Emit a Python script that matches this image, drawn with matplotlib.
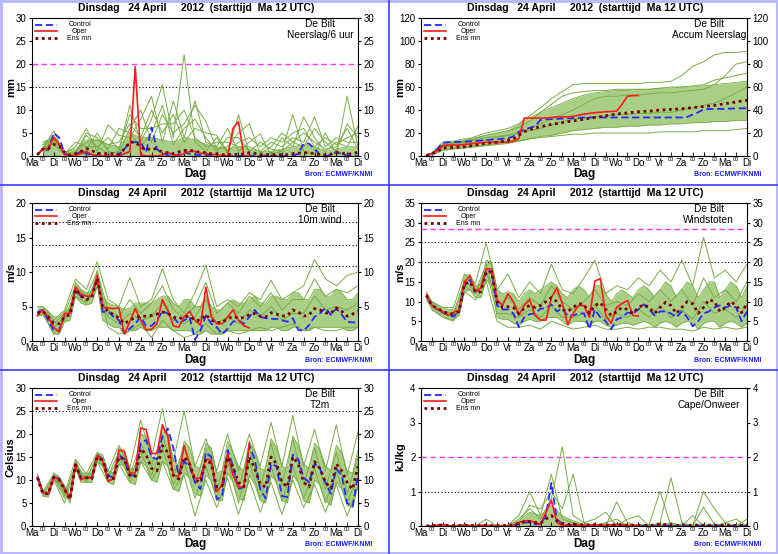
import matplotlib.pyplot as plt
import numpy as np

plt.rcParams['font.family'] = ['Liberation Sans', 'DejaVu Sans']

# time axis in days after Ma 12 UTC (6-hourly and 12-hourly steps)
t6 = np.arange(1, 61) * 0.25
t12 = np.arange(1, 31) * 0.5
day_names = ['Ma', 'Di', 'Wo', 'Do', 'Vr', 'Za', 'Zo', 'Ma', 'Di', 'Wo', 'Do', 'Vr', 'Za', 'Zo', 'Ma', 'Di']
title = 'Dinsdag   24 April     2012  (starttijd  Ma 12 UTC)'

# ---------------- Neerslag/6 uur ----------------
rain_ctrl = [0.3, 1.5, 1.3, 5.0,  4.0, 0.5, 0.1, 0.3,  1.0, 0.5, 0.3, 0.1,  0.1, 0.1, 0.1, 0.2,
             1.5, 3.0, 3.0, 3.0,  0.8, 6.2, 1.5, 0.5,  0.2, 0.1, 0.3, 0.8,  0.5, 0.3, 0.2, 0.3,
             0.2, 0.1, 0.0, 0.0,  0.0, 0.0, 0.0, 0.0,  0.0, 0.0, 0.0, 0.0,  0.0, 0.0, 0.0, 0.0,
             0.5, 2.7, 2.7, 1.5,  0.3, 0.0, 0.2, 0.8,  0.5, 0.1, 0.0, 0.0]
rain_oper = [0.3, 1.5, 1.7, 4.0,  2.5, 0.3, 0.0, 0.2,  0.5, 1.0, 0.3, 0.0,  0.0, 0.0, 0.0, 0.0,
             0.5, 1.0, 19.4, 0.3,  0.0, 0.0, 0.0, 0.2,  0.8, 0.2, 0.1, 0.5,  1.0, 1.0, 0.6, 0.5,
             0.4, 0.2, 0.1, 0.0,  6.0, 7.5, 0.0, 0.0]
rain_mean = [0.3, 1.5, 1.6, 2.5,  2.2, 0.8, 0.2, 0.5,  1.0, 1.6, 1.2, 0.6,  0.5, 0.5, 0.5, 0.4,
             1.5, 3.0, 3.0, 2.0,  1.3, 1.7, 1.5, 0.8,  0.7, 0.5, 0.9, 1.2,  1.3, 1.0, 0.8, 0.7,
             0.5, 0.5, 0.3, 0.3,  0.3, 0.4, 0.4, 0.7,  0.6, 0.3, 0.3, 0.3,  0.3, 0.3, 0.3, 0.5,
             0.6, 0.7, 0.7, 0.5,  0.3, 0.2, 0.4, 0.8,  0.6, 0.4, 0.5, 0.8]
rain_lo = [0.0] * 30
rain_hi = [2.5, 4.5, 0.8, 1.5, 3.5, 3.5, 2.5, 2.0, 5.0, 4.0,
           4.0, 3.5, 3.0, 4.0, 3.5, 2.5, 2.0, 1.5, 2.0, 1.5,
           1.0, 1.0, 1.5, 2.0, 2.5, 2.0, 1.0, 1.5, 2.0, 2.0]
rain_members = [
    [1.5, 5.5, 0.2, 0.5, 4.5, 2.0, 0.5, 1.0, 11.0, 3.0,
     8.0, 15.5, 4.0, 22.0, 3.0, 1.0, 4.0, 0.5, 9.0, 0.5,
     0.2, 0.5, 1.0, 9.0, 1.0, 0.5, 5.0, 0.5, 13.0, 2.0],
    [3.0, 4.0, 0.5, 2.0, 6.0, 1.0, 6.8, 4.5, 4.0, 8.0,
     13.0, 3.0, 12.0, 4.0, 12.0, 3.0, 2.0, 6.0, 1.0, 3.0,
     4.8, 0.2, 4.0, 2.0, 8.5, 4.0, 1.0, 3.0, 2.0, 6.5],
    [0.5, 3.0, 1.0, 0.0, 1.5, 5.0, 1.0, 0.5, 6.0, 10.0,
     3.0, 9.0, 5.0, 7.0, 11.0, 7.5, 1.5, 2.0, 5.0, 7.0,
     0.5, 2.0, 5.0, 3.0, 2.0, 6.0, 3.0, 1.0, 7.0, 4.0],
    [2.0, 2.5, 0.3, 1.0, 3.0, 3.5, 2.5, 3.0, 7.0, 4.0,
     10.0, 5.0, 9.0, 3.0, 6.0, 5.0, 4.5, 1.0, 3.0, 4.0,
     2.0, 4.0, 3.0, 5.0, 6.0, 2.0, 4.0, 2.5, 4.0, 5.0],
    [1.0, 4.0, 0.5, 3.0, 2.0, 2.0, 4.0, 1.5, 9.0, 6.0,
     6.0, 7.0, 7.0, 10.0, 4.0, 2.0, 3.0, 3.0, 2.0, 2.0,
     1.0, 3.0, 2.0, 4.0, 3.0, 8.5, 2.0, 4.0, 3.0, 3.0],
    [2.5, 3.5, 0.2, 0.5, 5.0, 4.0, 1.5, 6.0, 5.0, 2.0,
     5.0, 11.0, 2.5, 6.0, 8.0, 4.0, 1.0, 4.0, 4.0, 1.0,
     3.0, 1.5, 1.0, 3.0, 5.0, 3.0, 1.5, 2.0, 6.0, 1.5],
]

# ---------------- Accum Neerslag ----------------
acc_ctrl = [0.5, 2, 6, 11.5,  12, 12, 12.3, 12.5,  12.7, 13, 13.5, 14,  14.2, 14.5, 15, 15.5,
            17, 21, 23, 24.5,  26, 31.5, 32, 32,  32.3, 32.5, 32.8, 33,  33.2, 33.5, 33.5, 33.5,
            33.5, 33.5, 33.5, 33.5,  33.5, 33.5, 33.5, 33.5,  33.5, 33.5, 33.5, 33.5,  33.5, 33.5, 33.5, 33.5,
            34, 36, 38, 40.5,  40.8, 41, 41, 41,  41.2, 41.4, 41.5, 41.5]
acc_oper = [0.5, 2, 5, 9,  9.5, 9.5, 9.5, 10,  10.5, 11, 11.5, 12,  12, 12, 12, 12,
            13, 15, 33, 33,  33, 33, 33, 33.5,  34, 34, 34, 34.5,  35.5, 36.5, 37, 37.7,
            38, 38.5, 38.7, 39,  45, 52, 52.5, 52.5]
acc_mean = [0.5, 2, 4, 7,  7.2, 7.5, 7.7, 8,  8.7, 9.5, 10.2, 11,  11.5, 12, 12.7, 13.5,
            15, 18, 21, 23,  24.3, 25.5, 26.5, 27.5,  28.2, 29, 29.8, 30.5,  31.2, 32, 32.8, 33.5,
            34.3, 35, 35.8, 36.5,  37, 37.5, 38, 38.5,  38.8, 39, 39.5, 40,  40.2, 40.5, 40.8, 41,
            41.5, 42, 42.5, 43,  43.5, 44, 44.8, 45.5,  46.2, 47, 47.8, 48.5]
acc_lo = [1, 5, 6, 7, 8, 9, 10, 11, 13, 15,
          17, 18, 20, 22, 23, 24, 25, 25, 26, 26,
          27, 27, 28, 28, 29, 29, 30, 30, 31, 31]
acc_hi = [3, 12, 13, 15, 16, 18, 20, 22, 27, 33,
          38, 42, 46, 50, 53, 55, 56, 57, 57, 58,
          58, 59, 59, 60, 60, 61, 62, 63, 64, 65]
acc_members = [
    [2, 10, 12, 13, 17, 20, 22, 24, 28, 35,
     42, 50, 56, 62, 63, 63, 63, 63, 63, 63,
     64, 64, 65, 70, 78, 82, 88, 90, 90, 91],
    [1, 5, 7, 8, 9, 10, 11, 12, 13, 15,
     16, 17, 18, 19, 19, 20, 20, 20, 20, 20,
     20, 21, 21, 21, 21, 22, 22, 22, 23, 24],
    [2, 9, 11, 13, 15, 18, 20, 22, 25, 30,
     38, 45, 52, 55, 56, 57, 57, 58, 58, 58,
     58, 59, 60, 60, 61, 62, 66, 68, 70, 72],
    [1, 7, 9, 11, 12, 14, 16, 18, 20, 22,
     24, 27, 30, 32, 33, 34, 35, 36, 36, 37,
     37, 38, 38, 40, 42, 44, 46, 50, 55, 60],
    [2, 8, 10, 12, 14, 16, 17, 18, 20, 24,
     28, 32, 36, 40, 45, 50, 52, 52, 53, 53,
     54, 55, 55, 56, 57, 58, 62, 70, 80, 82],
]

# ---------------- 10m wind ----------------
wind_ctrl = [4.2, 4.5, 3.0, 1.5,  1.5, 3.8, 4.0, 7.5,  6.5, 6.3, 6.5, 9.2,  4.2, 4.3, 3.5, 3.0,
             1.1, 1.8, 2.5, 3.5,  2.2, 2.2, 3.0, 4.3,  4.0, 3.5, 2.5, 3.0,  3.5, 0.2, 1.5, 3.7,
             2.5, 2.0, 1.0, 1.8,  2.8, 3.0, 2.5, 3.5,  4.5, 3.5, 3.3, 3.2,  3.2, 3.0, 2.8, 3.3,
             1.6, 1.5, 2.3, 3.5,  4.0, 4.8, 3.8, 4.7,  3.8, 2.8, 2.7, 2.7]
wind_oper = [3.7, 4.5, 3.5, 2.0,  1.3, 4.0, 4.0, 7.8,  6.8, 6.5, 6.5, 9.5,  4.9, 4.8, 4.7, 4.8,
             1.0, 2.8, 4.7, 3.0,  1.6, 1.7, 2.5, 6.0,  4.5, 2.2, 2.0, 3.5,  4.3, 3.0, 2.3, 7.8,
             3.5, 2.5, 2.5, 3.5,  4.5, 3.0, 2.2, 1.9]
wind_mean = [4.0, 4.3, 3.5, 2.6,  2.5, 3.5, 3.8, 7.5,  6.5, 6.0, 6.3, 9.0,  5.0, 4.3, 3.8, 3.3,
             2.5, 3.0, 3.4, 3.6,  3.6, 3.7, 3.9, 4.2,  4.0, 3.5, 3.2, 3.5,  3.6, 3.0, 3.0, 3.8,
             3.0, 2.7, 2.7, 3.2,  3.6, 3.3, 3.4, 3.8,  4.0, 3.6, 3.5, 4.1,  3.9, 3.6, 3.7, 4.5,
             4.2, 3.6, 3.8, 4.7,  4.5, 4.1, 4.0, 4.8,  4.3, 3.6, 3.9, 4.3]
wind_lo = [3.6, 3.8, 2.5, 1.0,  1.0, 2.8, 3.0, 6.5,  5.5, 5.2, 5.5, 8.0,  3.0, 2.5, 2.0, 2.0,
           1.0, 1.5, 1.5, 2.0,  1.5, 1.5, 2.0, 2.0,  2.0, 1.5, 1.5, 1.5,  1.5, 1.0, 1.0, 1.5,
           1.0, 1.0, 1.0, 1.5,  1.5, 1.5, 1.5, 1.5,  1.5, 1.5, 1.5, 2.0,  2.0, 1.5, 1.5, 2.0,
           2.0, 1.5, 1.5, 2.0,  2.0, 2.0, 2.0, 2.0,  2.0, 1.5, 1.5, 2.0]
wind_hi = [5.0, 5.0, 4.3, 3.5,  3.5, 4.3, 4.7, 8.5,  7.5, 7.0, 7.2, 10.3,  6.5, 5.5, 5.2, 5.0,
           4.5, 4.8, 5.5, 5.5,  5.5, 5.5, 6.0, 6.5,  6.5, 5.5, 5.0, 6.0,  6.0, 5.0, 5.0, 6.5,
           5.0, 4.5, 4.5, 5.5,  6.0, 5.5, 5.5, 6.0,  6.5, 5.5, 5.5, 6.5,  6.5, 6.0, 6.0, 7.0,
           7.0, 6.0, 6.0, 7.5,  7.5, 6.5, 6.5, 7.5,  7.0, 6.0, 6.0, 7.0]
wind_members = [
    [5.0, 3.0, 4.5, 9.0, 7.5, 11.5, 6.0, 5.0, 9.2, 5.0,
     6.0, 10.5, 6.0, 4.0, 7.0, 11.0, 5.0, 6.0, 5.0, 7.0,
     6.0, 8.8, 6.0, 7.0, 8.0, 11.8, 9.0, 8.0, 9.5, 10.0],
    [4.0, 1.0, 3.0, 6.5, 5.5, 8.5, 2.0, 1.0, 1.5, 2.5,
     0.5, 3.0, 1.5, 0.5, 1.0, 2.5, 1.0, 1.5, 1.0, 1.5,
     2.0, 1.5, 2.0, 2.5, 1.5, 2.0, 1.5, 1.5, 2.0, 2.0],
    [4.5, 2.5, 4.0, 8.0, 6.5, 10.0, 4.5, 3.5, 6.0, 4.0,
     5.5, 8.0, 4.5, 3.5, 5.0, 8.5, 4.0, 5.5, 4.0, 6.5,
     5.0, 7.0, 4.5, 6.0, 6.0, 9.0, 6.5, 7.5, 7.0, 8.0],
    [4.2, 2.0, 3.5, 7.0, 6.0, 9.0, 3.5, 2.5, 4.0, 3.0,
     3.5, 5.5, 3.0, 2.5, 3.5, 6.0, 2.5, 3.5, 2.5, 4.5,
     3.5, 5.0, 3.0, 4.0, 4.0, 6.5, 4.5, 5.0, 4.5, 5.5],
]

# ---------------- Windstoten ----------------
gust_ctrl = [11.5, 9.0, 8.0, 7.3,  6.5, 6.2, 7.5, 14.0,  15.5, 12.5, 13.0, 18.0,  17.5, 9.0, 8.0, 8.0,
             7.0, 3.5, 6.0, 6.8,  7.0, 8.2, 8.3, 9.3,  7.5, 8.3, 6.3, 6.5,  7.0, 7.0, 3.0, 8.0,
             6.0, 5.0, 3.0, 5.5,  6.0, 7.2, 7.0, 8.0,  9.3, 8.0, 6.5, 7.5,  7.5, 7.0, 6.0, 7.5,
             6.0, 3.7, 5.0, 7.0,  7.5, 8.5, 9.0, 8.5,  9.0, 8.5, 5.0, 7.5]
gust_oper = [11.8, 9.0, 8.0, 7.5,  6.5, 7.3, 7.8, 15.0,  16.5, 12.5, 13.5, 18.3,  18.3, 10.5, 9.0, 12.0,
             10.0, 6.5, 9.0, 10.5,  6.5, 5.3, 5.3, 11.0,  13.5, 9.5, 4.2, 7.0,  9.0, 9.0, 6.0, 15.2,
             15.8, 6.5, 4.5, 8.5,  9.5, 10.3, 6.5, 6.3]
gust_mean = [11.5, 9.0, 8.3, 7.5,  7.0, 6.8, 7.5, 14.5,  15.0, 12.5, 12.5, 17.5,  17.5, 10.0, 8.5, 8.7,
             8.5, 7.0, 8.3, 9.0,  8.5, 9.0, 10.0, 11.0,  10.0, 8.0, 7.5, 8.5,  9.5, 9.2, 7.0, 9.0,
             9.7, 8.0, 6.5, 7.5,  8.5, 8.0, 7.0, 8.5,  9.2, 8.5, 7.0, 8.5,  9.8, 9.0, 7.0, 8.5,
             10.0, 9.5, 7.0, 8.5,  10.5, 10.0, 7.5, 8.5,  10.0, 9.0, 7.2, 9.5]
gust_lo = [10.5, 8.0, 7.0, 6.5,  5.5, 5.5, 6.5, 12.5,  13.0, 11.0, 11.0, 15.5,  14.0, 6.0, 5.5, 5.5,
           4.5, 4.0, 5.0, 5.5,  5.0, 5.0, 6.0, 6.0,  6.0, 5.0, 4.0, 5.0,  5.0, 5.0, 4.0, 5.0,
           5.0, 4.0, 3.5, 4.0,  4.5, 4.5, 4.0, 4.5,  5.0, 4.5, 3.5, 4.5,  5.0, 4.5, 3.5, 4.5,
           5.0, 4.5, 3.0, 4.5,  5.0, 5.0, 3.5, 4.5,  5.0, 4.5, 3.5, 4.5]
gust_hi = [12.5, 10.0, 9.0, 8.5,  8.0, 8.0, 9.0, 16.5,  17.0, 14.0, 14.5, 20.5,  20.0, 13.0, 12.0, 12.5,
           12.0, 10.0, 12.0, 13.0,  12.0, 13.0, 14.0, 15.0,  14.0, 12.0, 11.0, 13.0,  14.0, 13.0, 11.0, 14.0,
           14.0, 12.0, 10.0, 12.0,  13.0, 12.0, 11.0, 13.0,  14.0, 13.0, 11.0, 13.0,  15.0, 14.0, 11.0, 13.0,
           15.0, 14.0, 11.0, 13.0,  15.0, 15.0, 11.0, 13.0,  15.0, 14.0, 11.0, 14.0]
gust_members = [
    [10, 8.5, 8.5, 17, 14.5, 25, 13, 17, 11, 15,
     12, 19.5, 13, 12, 16, 20.5, 12, 14, 13, 16,
     14, 18, 15, 20.5, 14, 26.3, 16, 18, 15, 19.5],
    [8, 6, 5, 12.5, 10.5, 15, 5, 3.5, 3.5, 4,
     3, 5, 4, 3, 3.5, 4, 3, 3, 3.5, 3,
     3.5, 3.5, 3, 3, 2.5, 3.5, 3, 3.5, 3, 3.5],
    [9.5, 7.5, 7, 15.5, 12.5, 19.5, 9, 11, 8, 11,
     9, 14, 10, 8, 10, 13, 9, 10, 9, 12,
     10, 13, 10, 13, 9, 16, 11, 13, 10, 15],
    [9, 7, 6.5, 14, 12, 18, 7, 7, 6, 8,
     6, 9, 6, 6, 7, 9, 5.5, 7, 6, 8,
     6, 9, 6, 8, 5.5, 10, 7, 8, 6, 9],
]

# ---------------- T2m ----------------
t2m_ctrl = [10.8, 7.3, 7.0, 10.8,  10.3, 8.0, 6.3, 13.5,  10.5, 10.5, 10.5, 15.5,  14.5, 11.0, 10.5, 15.5,
            14.5, 11.0, 11.0, 18.0,  18.7, 15.0, 14.5, 19.5,  21.2, 17.0, 11.0, 14.0,  13.0, 9.5, 8.0, 16.0,
            15.0, 5.8, 6.5, 16.5,  13.0, 8.0, 8.5, 17.5,  14.5, 8.0, 6.0, 13.5,  13.0, 6.5, 6.3, 15.5,
            14.5, 10.5, 9.5, 13.5,  12.5, 9.5, 7.0, 12.5,  11.0, 5.0, 4.2, 11.0]
t2m_oper = [10.5, 7.3, 7.0, 10.8,  10.0, 8.0, 6.0, 13.5,  10.0, 10.7, 10.3, 15.3,  14.3, 9.7, 10.3, 16.5,
            16.2, 11.5, 11.5, 21.3,  21.0, 15.8, 15.7, 22.0,  19.5, 11.0, 10.8, 17.5,  13.5, 10.3, 10.5, 14.5,
            14.3, 7.5, 9.0, 15.7,  11.0, 8.5, 8.5, 18.0]
t2m_mean = [10.5, 7.0, 7.0, 10.6,  10.0, 8.0, 5.8, 13.3,  10.5, 10.5, 10.3, 15.0,  14.3, 10.5, 10.3, 15.0,
            14.5, 11.0, 10.8, 16.8,  15.5, 12.5, 12.0, 17.5,  16.0, 11.0, 10.2, 15.0,  13.5, 10.0, 9.5, 14.5,
            13.5, 8.5, 8.7, 15.0,  12.8, 9.5, 8.5, 15.0,  12.5, 9.0, 8.5, 15.0,  13.5, 9.5, 8.5, 15.0,
            13.5, 9.5, 8.5, 14.0,  12.5, 9.5, 8.2, 13.5,  12.0, 9.5, 8.0, 13.0]
t2m_lo = [10.0, 6.5, 6.3, 10.0,  9.3, 7.0, 5.0, 12.5,  9.5, 9.5, 9.5, 14.0,  13.0, 9.5, 9.0, 13.5,
          13.0, 9.5, 9.0, 14.0,  13.0, 10.0, 9.5, 14.0,  13.0, 8.0, 7.5, 11.5,  10.5, 7.0, 6.5, 11.0,
          10.0, 5.5, 5.5, 11.5,  9.5, 6.0, 5.5, 11.0,  9.0, 5.5, 5.0, 11.0,  9.5, 5.5, 5.0, 11.0,
          9.5, 5.5, 5.0, 10.0,  9.0, 5.5, 4.5, 9.5,  8.0, 4.5, 4.0, 9.0]
t2m_hi = [11.3, 7.8, 7.5, 11.5,  10.8, 8.8, 6.8, 14.5,  11.5, 11.5, 11.3, 16.0,  15.5, 12.0, 11.5, 17.0,
          16.5, 12.5, 12.5, 20.0,  19.5, 15.0, 14.5, 21.5,  20.0, 14.5, 13.0, 18.5,  17.0, 13.0, 12.5, 18.0,
          17.0, 11.5, 12.0, 18.5,  16.0, 13.0, 12.0, 18.5,  16.0, 12.5, 12.0, 19.0,  17.0, 13.0, 12.5, 19.5,
          17.5, 13.5, 12.5, 18.0,  16.5, 13.0, 12.0, 17.5,  16.0, 12.0, 11.5, 16.5]
t2m_members = [
    [7.5, 11.3, 7, 14.5, 11.3, 16, 12, 17.5, 12.5, 23,
     15, 25.5, 14, 25, 13, 19, 12, 20, 12, 20,
     13, 22.5, 13, 24, 13, 21, 12, 22, 11, 20.5],
    [6.5, 10, 5, 12.5, 9.5, 14, 9.5, 13.5, 9.5, 14,
     10, 14, 8, 11, 2.2, 10, 4, 10.5, 2.5, 10,
     3, 9.5, 2.5, 10, 4, 9, 3, 9, 2.2, 8.5],
    [7, 10.5, 6, 13.5, 10.5, 15, 11, 16, 11, 18,
     13, 20, 11, 17, 9, 17, 8, 16, 8, 17,
     8, 18, 9, 19, 9, 17, 8, 16, 7, 15],
    [7, 10.8, 6.5, 13, 10, 15.5, 10.5, 15, 10.5, 16,
     11, 17, 9, 14, 6, 13, 6, 14, 5, 14,
     6, 13, 5.5, 13, 6, 12.5, 5, 12, 5, 11],
]

# ---------------- Cape/Onweer ----------------
cape_ctrl = [0, 0, 0.02, 0.02,  0, 0, 0.01, 0.01,  0, 0, 0.01, 0.01,  0, 0, 0, 0,
             0, 0.05, 0.1, 0.1,  0.05, 0.05, 0.3, 1.25,  0.2, 0.05, 0.02, 0.03,  0.01, 0.01, 0.01, 0.01,
             0.01, 0.01, 0.01, 0.01,  0.01, 0, 0, 0.01,  0.01, 0.01, 0, 0.01,  0.01, 0.01, 0, 0,
             0, 0.01, 0.01, 0,  0, 0.01, 0.01, 0,  0, 0.01, 0, 0]
cape_oper = [0, 0, 0.02, 0.03,  0.01, 0, 0.01, 0.01,  0.01, 0, 0.02, 0.02,  0, 0, 0, 0,
             0.02, 0.1, 0.15, 0.15,  0.1, 0.05, 0.4, 0.75,  0.1, 0.02, 0.01, 0.02,  0.02, 0.02, 0.01, 0.03,
             0.02, 0.02, 0.03, 0.05,  0.04, 0.02, 0.01, 0.01]
cape_mean = [0, 0.01, 0.02, 0.03,  0.02, 0.01, 0.01, 0.02,  0.02, 0.01, 0.01, 0.02,  0.01, 0.01, 0.01, 0.02,
             0.03, 0.08, 0.12, 0.13,  0.1, 0.08, 0.2, 0.3,  0.15, 0.08, 0.05, 0.05,  0.04, 0.03, 0.03, 0.04,
             0.03, 0.03, 0.03, 0.04,  0.03, 0.02, 0.02, 0.02,  0.02, 0.02, 0.03, 0.05,  0.04, 0.03, 0.02, 0.02,
             0.02, 0.02, 0.03, 0.02,  0.02, 0.02, 0.02, 0.02,  0.02, 0.02, 0.02, 0.03]
cape_lo = [0.0] * 30
cape_hi = [0.02, 0.03, 0.02, 0.03, 0.02, 0.03, 0.03, 0.03, 0.15, 0.4,
           0.3, 0.6, 0.3, 0.15, 0.05, 0.05, 0.05, 0.05, 0.05, 0.03,
           0.03, 0.05, 0.05, 0.05, 0.05, 0.05, 0.05, 0.03, 0.03, 0.05]
cape_members = [
    [0, 0.03, 0, 0.02, 0, 0, 0, 0.02, 0.3, 1.0,
     0.3, 1.5, 0.2, 0.1, 0, 0.05, 0, 0.7, 0.1, 0,
     0.05, 1.0, 0, 0.05, 0, 0.55, 0.05, 0, 0, 0.2],
    [0, 0, 0, 0, 0, 0.2, 0, 0, 0.2, 0.5,
     0.2, 0.8, 2.3, 0.3, 0.1, 0, 0.1, 0.2, 0, 0,
     0, 0.1, 1.4, 0.1, 0, 1.0, 0.5, 0.1, 0.2, 0],
    [0, 0, 0, 0.05, 0, 0, 0, 0, 0.1, 0.6,
     0.5, 1.0, 0.5, 1.5, 0.1, 0.2, 0.4, 0, 0.2, 0.3,
     0, 0, 0.1, 0, 0.3, 0, 0, 0.1, 0, 0],
]

W, H = 778, 554
fig = plt.figure(figsize=(W / 100, H / 100), dpi=100)

GREEN = '#78ad46'
BAND = '#a9cf86'
BLUE = '#2828ff'
RED = '#ff1a1a'
MEAN = '#7a0000'


def panel(col, row, ymax, ystep, ylabel, name, ctrl, oper, mean,
          tb, lo, hi, members, hlines):
    ox, oy = col * 389, row * 185
    ax = fig.add_axes([(ox + 32) / W, 1 - (oy + 156) / H, 326 / W, 138 / H])

    # ensemble plume
    ax.fill_between(tb, lo, hi, color=BAND, lw=0, zorder=1)
    ax.plot(tb, lo, color=GREEN, lw=0.6, zorder=2)
    ax.plot(tb, hi, color=GREEN, lw=0.6, zorder=2)
    for m in members:
        ax.plot(t12, m, color=GREEN, lw=0.7, zorder=2)

    for y, kind in hlines:
        if kind == 'm':
            ax.axhline(y, color='#ff33ff', lw=1.0, ls=(0, (4, 2.5)), zorder=1.5)
        else:
            ax.axhline(y, color='black', lw=0.8, ls=(0, (1, 2)), zorder=1.5)

    ax.plot(t6, ctrl, color=BLUE, lw=1.3, ls=(0, (4, 2)), zorder=4)
    ax.plot(t6[:len(oper)], oper, color=RED, lw=1.2, zorder=5)
    ax.plot(t6, mean, color=MEAN, lw=2.0, ls=(0, (1, 1.3)), zorder=6)

    # legend, drawn by hand like the original
    leg = [('Control', BLUE, (0, (4, 2)), 1.3, 0.950),
           ('Oper', RED, '-', 1.2, 0.905),
           ('Ens mn', MEAN, (0, (1, 1.3)), 2.0, 0.855)]
    for lab, c, ls, lw, yy in leg:
        ax.plot([0.009, 0.077], [yy, yy], transform=ax.transAxes, color=c, ls=ls, lw=lw, zorder=7)
        ax.text(0.146, yy, lab, transform=ax.transAxes, fontsize=5, ha='center', va='center', zorder=7)

    ax.text(0.883, 0.955, 'De Bilt', transform=ax.transAxes, fontsize=7.3, ha='center', va='center')
    ax.text(0.883, 0.878, name, transform=ax.transAxes, fontsize=7.3, ha='center', va='center')

    ax.set_xlim(0, 15)
    ax.set_ylim(0, ymax)
    ax.set_xticks(np.arange(16), labels=day_names)
    ax.set_xticks(np.arange(0.5, 15, 1.0), labels=['00'] * 15, minor=True)
    ax.tick_params(axis='x', which='major', direction='in', length=3, labelsize=7, pad=1.5)
    ax.tick_params(axis='x', which='minor', direction='in', length=3, labelsize=4, pad=0.5)
    ax.set_yticks(np.arange(0, ymax + 0.01, ystep))
    ax.tick_params(axis='y', left=True, right=True, labelleft=True, labelright=True,
                   direction='out', length=2, labelsize=7, pad=2)
    for s in ax.spines.values():
        s.set_linewidth(0.8)

    fig.text((ox + 196) / W, 1 - (oy + 8) / H, title, fontsize=7.6, fontweight='bold',
             ha='center', va='center')
    fig.text((ox + 11) / W, 1 - (oy + 87) / H, ylabel, fontsize=8, fontweight='bold',
             ha='center', va='center', rotation=90)
    fig.text((ox + 195) / W, 1 - (oy + 174.5) / H, 'Dag', fontsize=8.5, fontweight='bold',
             ha='center', va='center')
    fig.text((ox + 372) / W, 1 - (oy + 175) / H, 'Bron: ECMWF/KNMI', fontsize=5, fontweight='bold',
             color='#1a1aff', ha='right', va='center')


panel(0, 0, 30, 5, 'mm', 'Neerslag/6 uur', rain_ctrl, rain_oper, rain_mean,
      t12, rain_lo, rain_hi, rain_members, [(20, 'm'), (15, 'k')])
panel(1, 0, 120, 20, 'mm', 'Accum Neerslag', acc_ctrl, acc_oper, acc_mean,
      t12, acc_lo, acc_hi, acc_members, [])
panel(0, 1, 20, 5, 'm/s', '10m wind', wind_ctrl, wind_oper, wind_mean,
      t6, wind_lo, wind_hi, wind_members, [(10.8, 'k'), (13.9, 'k'), (17.2, 'k')])
panel(1, 1, 35, 5, 'm/s', 'Windstoten', gust_ctrl, gust_oper, gust_mean,
      t6, gust_lo, gust_hi, gust_members, [(28.5, 'm'), (25, 'k'), (20, 'k')])
panel(0, 2, 30, 5, 'Celsius', 'T2m', t2m_ctrl, t2m_oper, t2m_mean,
      t6, t2m_lo, t2m_hi, t2m_members, [(25, 'k')])
panel(1, 2, 4, 1, 'kJ/kg', 'Cape/Onweer', cape_ctrl, cape_oper, cape_mean,
      t12, cape_lo, cape_hi, cape_members, [(2, 'm'), (1, 'k')])

# frame round the page and blue separators between the six panels
outer = dict(color='#b4b4ff', lw=2.0, transform=fig.transFigure)
fig.add_artist(plt.Line2D([1 / W, 1 / W], [0, 1], **outer))
fig.add_artist(plt.Line2D([1 - 1 / W, 1 - 1 / W], [0, 1], **outer))
fig.add_artist(plt.Line2D([0, 1], [1 - 1 / H, 1 - 1 / H], **outer))
fig.add_artist(plt.Line2D([0, 1], [1 / H, 1 / H], **outer))
sep = dict(color='#3c3cff', lw=1.2, transform=fig.transFigure)
fig.add_artist(plt.Line2D([388.5 / W, 388.5 / W], [0, 1], **sep))
fig.add_artist(plt.Line2D([0, 1], [1 - 184.5 / H, 1 - 184.5 / H], **sep))
fig.add_artist(plt.Line2D([0, 1], [1 - 369.5 / H, 1 - 369.5 / H], **sep))

fig.savefig('out.png', dpi=100)
